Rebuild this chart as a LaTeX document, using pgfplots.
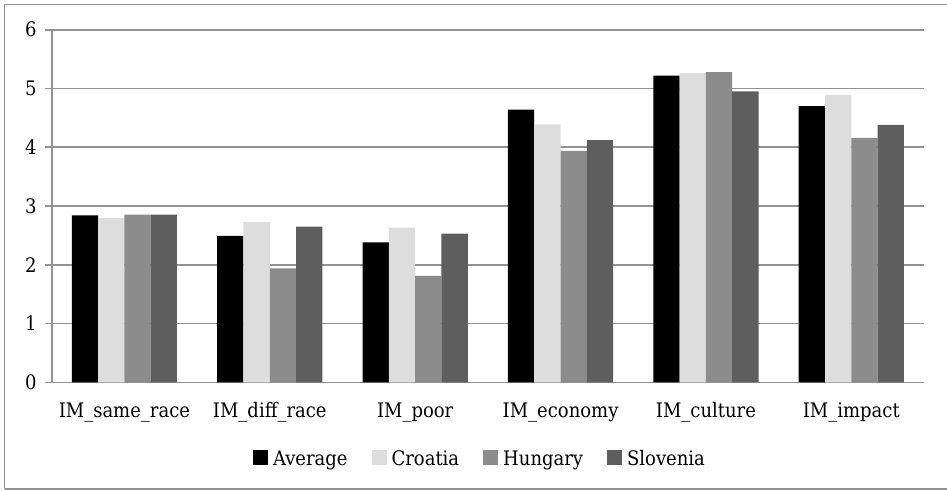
\documentclass[border=0pt]{standalone}
\usepackage{pgfplots}
\pgfplotsset{compat=1.18}
\usepackage{fontspec}
\setmainfont{DejaVu Serif Condensed}
\definecolor{sAvg}{HTML}{000000}
\definecolor{sCro}{HTML}{DDDDDD}
\definecolor{sHun}{HTML}{8C8C8C}
\definecolor{sSlo}{HTML}{5E5E5E}
\definecolor{gridc}{HTML}{929292}
\begin{document}
\begin{tikzpicture}
\begin{axis}[
  scale only axis, width=872.3pt, height=352.6pt,
  ymin=0, ymax=6, ytick={0,1,2,3,4,5,6},
  xmin=-0.5, xmax=5.5,
  xtick={0,1,2,3,4,5},
  xticklabels={IM\_same\_race,IM\_diff\_race,IM\_poor,IM\_economy,IM\_culture,IM\_impact},
  minor xtick={-0.5,0.5,1.5,2.5,3.5,4.5,5.5},
  axis lines*=left,
  axis line style={gridc, line width=1.6pt},
  ymajorgrids, grid style={gridc, line width=1.6pt},
  tick align=outside,
  major tick length=7pt, minor tick length=7pt,
  xtick style={draw=none},
  minor x tick style={gridc, line width=1.6pt},
  ytick style={gridc, line width=1.6pt},
  ybar=0pt, bar width=26.3pt,
  tick label style={font=\fontsize{20}{24}\selectfont, text=black},
  yticklabel style={anchor=east, inner sep=0pt, xshift=-8pt},
  xticklabel style={anchor=base, inner sep=0pt, yshift=-28pt},
  /pgf/number format/assume math mode=true,
  legend columns=4,
  legend style={at={(0.491,-0.217)}, anchor=center, draw=none, fill=none,
    font=\fontsize{20}{24}\selectfont, inner sep=0pt,
    /tikz/every odd column/.append style={column sep=3pt},
    /tikz/every even column/.append style={column sep=22pt}},
  legend image code/.code={\fill[#1] (0pt,-6pt) rectangle (15pt,9pt);},
  every axis plot/.append style={draw=none},
]
\addplot[fill=sAvg] coordinates {(0,2.84) (1,2.49) (2,2.38) (3,4.64) (4,5.22) (5,4.70)};
\addplot[fill=sCro] coordinates {(0,2.80) (1,2.73) (2,2.63) (3,4.39) (4,5.26) (5,4.89)};
\addplot[fill=sHun] coordinates {(0,2.855) (1,1.94) (2,1.81) (3,3.94) (4,5.28) (5,4.16)};
\addplot[fill=sSlo] coordinates {(0,2.855) (1,2.65) (2,2.53) (3,4.12) (4,4.95) (5,4.38)};
\legend{Average,Croatia,Hungary,Slovenia}
\coordinate (O) at (rel axis cs:0,0);
\end{axis}
\pgfresetboundingbox
\begin{scope}[shift={(O)}, x=1pt, y=1pt]
\useasboundingbox (-51.7,-107.7) rectangle (895.3,382.3);
\draw[gridc, line width=1.6pt] (-47,-106.5) -- (-47,377.6) -- (910,377.6);
\draw[gridc, line width=1.6pt] (-47,-106.5) -- (910,-106.5);
\end{scope}
\end{tikzpicture}
\end{document}
